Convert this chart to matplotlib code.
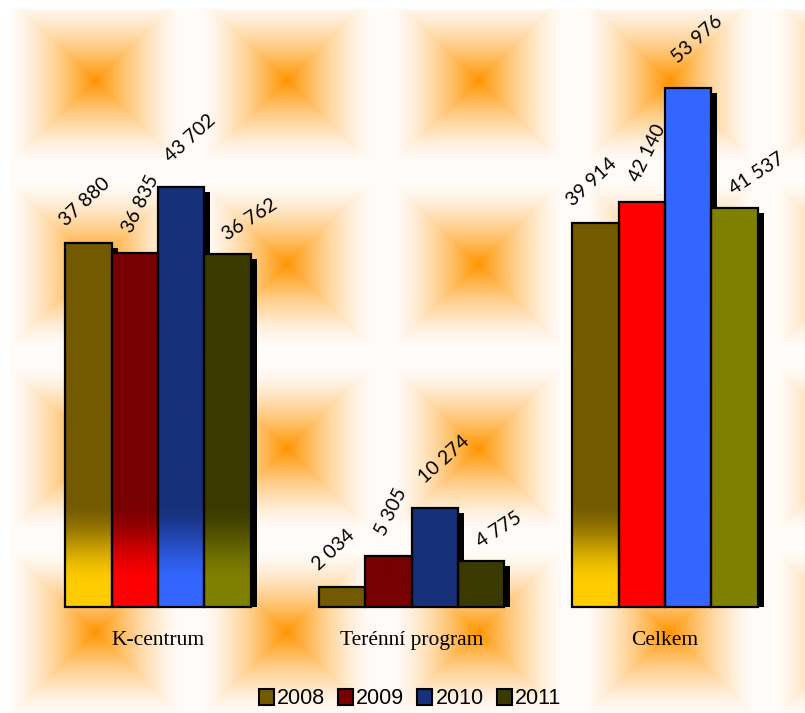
import numpy as np
import matplotlib
matplotlib.use('Agg')
import matplotlib.pyplot as plt
from matplotlib.patches import Patch
from matplotlib.transforms import ScaledTranslation
from matplotlib.colors import to_rgb

# data
categories = ['K-centrum', 'Terénní program', 'Celkem']
years = ['2008', '2009', '2010', '2011']
v2008 = [37880, 2034, 39914]
v2009 = [36835, 5305, 42140]
v2010 = [43702, 10274, 53976]
v2011 = [36762, 4775, 41537]
values = [v2008, v2009, v2010, v2011]

# barvy: tmava / svetla
dark = ['#735A00', '#770000', '#17307A', '#3A3A00']
bright = ['#FFCC00', '#FF0000', '#3366FF', '#808000']
# vypln sloupcu (prechod jako v puvodnim grafu)
fill_mode = [['grad', 'dark', 'grad'],
             ['grad', 'dark', 'bright'],
             ['grad', 'dark', 'bright'],
             ['grad', 'dark', 'bright']]
# natoceni a posun popisku (px od stredu sloupce, px nad sloupcem)
lab_rot = [43, 64, 42, 33]
lab_off = [(-23, 16), (-3, 19), (-10, 24), (0, 13)]

W, H = 805, 713
fig = plt.figure(figsize=(W / 100, H / 100), dpi=100)

# pozadi - dlazdice s oranzovym stredem
bg = fig.add_axes([0, 0, 1, 1], zorder=0)
py, px = np.mgrid[0:H, 0:W].astype(float)
hx, hy = 95.5, 92.0
dx = np.mod(px - 95 + hx, 2 * hx) - hx
dy = np.mod(py - 80 + hy, 2 * hy) - hy
d = np.maximum(np.abs(dx) / hx, np.abs(dy) / hy)
f = np.clip(1 - d / 0.9, 0, 1) ** 1.45
orange = np.array(to_rgb('#FF9500'))
white = np.array([1.0, 0.988, 0.98])
img = white[None, None, :] * (1 - f[..., None]) + orange[None, None, :] * f[..., None]
img[(px < 10) | (py < 9)] = 1.0
bg.imshow(img, aspect='auto', interpolation='bilinear')
bg.axis('off')

base_px, top_px = 607, 10
ymax = 53976 * (base_px - top_px) / 519
ax = fig.add_axes([10 / W, (H - base_px) / H, (W - 10) / W, (base_px - top_px) / H], zorder=1)
ax.patch.set_visible(False)

x = np.arange(len(categories))
w = 0.1826
shadow_tr = ax.transData + ScaledTranslation(6 / 100, -5 / 100, fig.dpi_scale_trans)

# stiny
for i in range(4):
    sb = ax.bar(x + (i - 1.5) * w, values[i], w, color='black', zorder=1)
    for r in sb:
        r.set_transform(shadow_tr)

lo, hi = 2300, 11000
for i in range(4):
    bars = ax.bar(x + (i - 1.5) * w, values[i], w, facecolor='none',
                  edgecolor='black', linewidth=1.6, zorder=3, clip_on=False)
    c_dark = np.array(to_rgb(dark[i]))
    c_bright = np.array(to_rgb(bright[i]))
    for j, r in enumerate(bars):
        h = values[i][j]
        v = np.linspace(0, h, 300)
        if fill_mode[i][j] == 'grad':
            t = np.clip((v - lo) / (hi - lo), 0, 1)
            t = t * t * (3 - 2 * t)
        elif fill_mode[i][j] == 'dark':
            t = np.ones_like(v)
        else:
            t = np.zeros_like(v)
        col = c_bright[None, :] * (1 - t[:, None]) + c_dark[None, :] * t[:, None]
        arr = np.repeat(col[:, None, :], 2, axis=1)
        im = ax.imshow(arr, extent=[r.get_x(), r.get_x() + w, 0, h], origin='lower',
                       aspect='auto', zorder=2, interpolation='bilinear')
        im.set_clip_path(r)
        lab = f"{h:,}".replace(',', ' ')
        ax.annotate(lab, (r.get_x() + w / 2, h),
                    xytext=(lab_off[i][0] * 0.72, lab_off[i][1] * 0.72),
                    textcoords='offset points', rotation=lab_rot[i],
                    rotation_mode='anchor', ha='left', va='baseline',
                    fontsize=14, family='Lato', color='black', zorder=4)

ax.set_xlim((10 - 158) / 253.5, (W - 158) / 253.5)
ax.set_ylim(0, ymax)
ax.set_xticks(x, categories, family='Liberation Serif', fontsize=15.5)
ax.tick_params(axis='x', length=0, pad=17)
ax.set_yticks([])
for s in ax.spines.values():
    s.set_visible(False)

handles = [Patch(facecolor=dark[i], edgecolor='black', linewidth=1.5, label=years[i]) for i in range(4)]
fig.legend(handles=handles, loc='center', bbox_to_anchor=(410 / W, 1 - 699 / H), ncol=4,
           frameon=False, prop={'family': 'Liberation Sans', 'size': 15.5},
           handlelength=0.7, handleheight=0.7, handletextpad=0.15, columnspacing=0.6)

fig.savefig('out.png', dpi=100)
